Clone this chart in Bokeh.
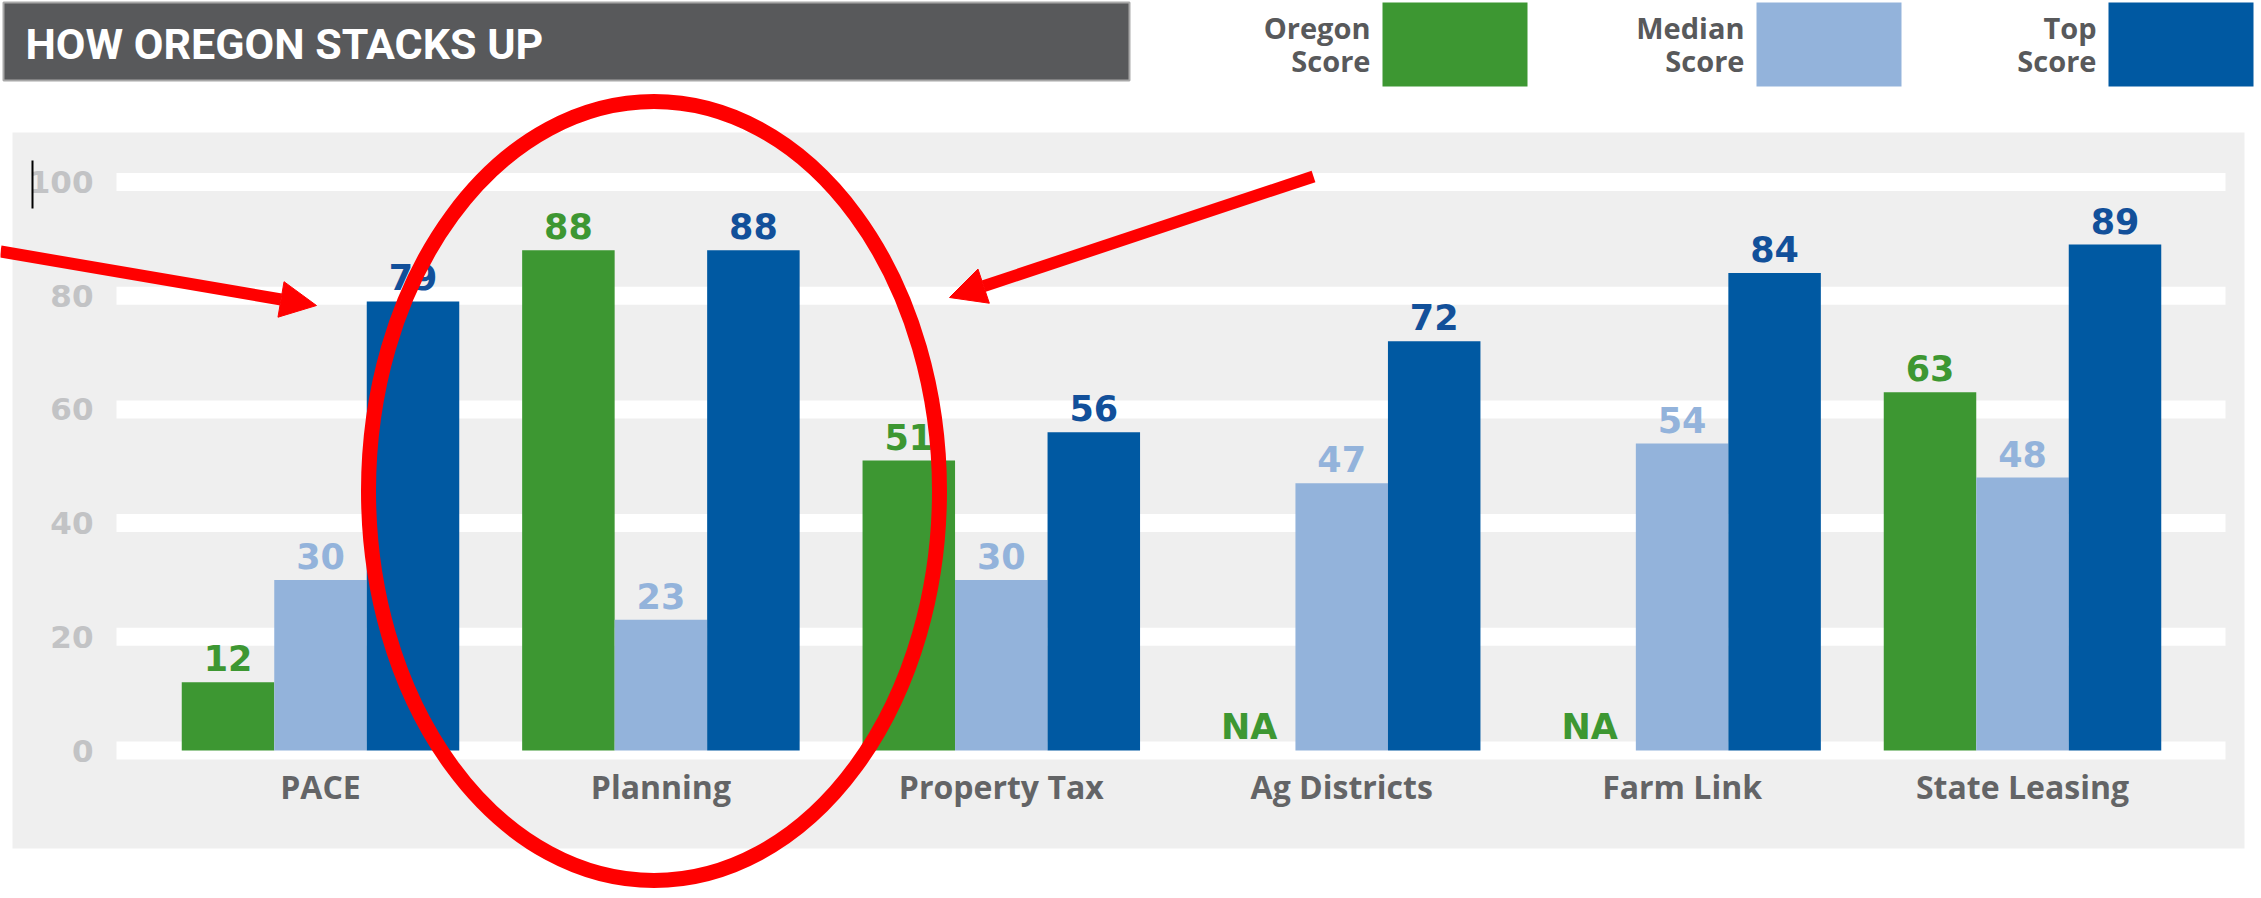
from bokeh.plotting import figure
from bokeh.models import Range1d, ColumnDataSource, Arrow, NormalHead
from bokeh.transform import dodge
from bokeh.core.properties import value
from bokeh.embed import file_html
from bokeh.resources import INLINE

# ---------------- data ----------------
categories = ["PACE", "Planning", "Property Tax", "Ag Districts", "Farm Link", "State Leasing"]
oregon_score = [12, 88, 51, None, None, 63]
median_score = [30, 23, 30, 47, 54, 48]
top_score = [79, 88, 56, 72, 84, 89]
series_names = ["Oregon Score", "Median Score", "Top Score"]
y_ticks = [0, 20, 40, 60, 80, 100]
title_text = "HOW OREGON STACKS UP"

# ---------------- styles ----------------
bar_colors = ["#3d9732", "#93b3db", "#0059a2"]
label_colors = ["#3d9732", "#93b3db", "#12509a"]
NUM_FONT = value("DejaVu Sans")
TXT_FONT = value("Open Sans")

W, H = 2261, 898
OFF = 0
X0, XU = 320.0, 340.4
Y0, YU = 750.0, 5.685


def X(px):
    return (px - X0) / XU


def Y(py):
    return (Y0 - py) / YU


def DW(px):
    return px / XU


def DH(px):
    return px / YU


p = figure(width=W, height=H, output_backend="svg", toolbar_location=None,
           x_range=Range1d(X(OFF), X(OFF + W)), y_range=Range1d(Y(OFF + H), Y(OFF)),
           x_axis_location=None, y_axis_location=None, min_border=0)
p.grid.visible = False
p.outline_line_color = None
p.background_fill_color = "white"
p.border_fill_color = "white"

# panel background
p.quad(left=X(12), right=X(2244), top=Y(132), bottom=Y(848),
       fill_color="#efefef", line_color=None)

# grid bands
p.segment(x0=X(116), x1=X(2225), y0=y_ticks, y1=y_ticks, line_color="white", line_width=18)

# y tick labels
p.text(x=X(93), y=y_ticks, text=[str(t) for t in y_ticks], text_align="right",
       text_baseline="middle", text_font=NUM_FONT, text_font_style="bold",
       text_font_size="31px", text_color="#c2c3c5")

# bars
idx = list(range(len(categories)))
nan = float("nan")
src = ColumnDataSource(dict(
    x=idx,
    oregon=[v if v is not None else nan for v in oregon_score],
    median=median_score,
    top=top_score,
))
bw = DW(92.5)
offsets = [-bw, 0.0, bw]
cols = ["oregon", "median", "top"]
for col, off, c in zip(cols, offsets, bar_colors):
    p.vbar(x=dodge("x", off, range=p.x_range), top=col, bottom=0, width=bw,
           source=src, fill_color=c, line_color=None)

# value labels
for vals, off, c in zip([oregon_score, median_score, top_score], offsets, label_colors):
    txt = [str(v) if v is not None else "NA" for v in vals]
    ly = [(v if v is not None else 0) + DH(24) for v in vals]
    p.text(x=[i + off for i in idx], y=ly, text=txt, text_align="center",
           text_baseline="middle", text_font=NUM_FONT, text_font_style="bold",
           text_font_size="35px", text_color=c)

# category labels
p.text(x=idx, y=Y(786), text=categories, text_align="center", text_baseline="middle",
       text_font=TXT_FONT, text_font_style="bold", text_font_size="32px", text_color="#636466")

# title bar
p.quad(left=X(3), right=X(1129), top=Y(2), bottom=Y(80), fill_color="#58595b",
       line_color="#a8a8a8", line_width=2)
p.text(x=X(25), y=Y(43), text=[title_text], text_align="left", text_baseline="middle",
       text_font=value("Roboto"), text_font_style="bold",
       text_font_size="43px", text_color="white")

# legend
box_left = [1382, 1756, 2108]
p.quad(left=[X(b) for b in box_left], right=[X(b + 145) for b in box_left],
       top=Y(2), bottom=Y(86), fill_color=bar_colors, line_color=None)
line1 = [s.split(" ")[0] for s in series_names]
line2 = [s.split(" ")[1] for s in series_names]
p.text(x=[X(b - 12) for b in box_left], y=Y(27), text=line1, text_align="right",
       text_baseline="middle", text_font=TXT_FONT, text_font_style="bold",
       text_font_size="29px", text_color="#58595b")
p.text(x=[X(b - 12) for b in box_left], y=Y(60), text=line2, text_align="right",
       text_baseline="middle", text_font=TXT_FONT, text_font_style="bold",
       text_font_size="29px", text_color="#58595b")

# text cursor artefact
p.segment(x0=X(32), x1=X(32), y0=Y(160), y1=Y(208), line_color="black", line_width=2)

# red annotations
p.ellipse(x=X(653.5), y=Y(490.5), width=DW(571), height=DH(779),
          fill_color=None, line_color="#ff0000", line_width=15)
p.add_layout(Arrow(end=NormalHead(size=36, fill_color="#ff0000", line_color="#ff0000"),
                   x_start=X(0), y_start=Y(251), x_end=X(316), y_end=Y(305),
                   line_color="#ff0000", line_width=12))
p.add_layout(Arrow(end=NormalHead(size=36, fill_color="#ff0000", line_color="#ff0000"),
                   x_start=X(1313), y_start=Y(176), x_end=X(949), y_end=Y(297),
                   line_color="#ff0000", line_width=12))

open("out.html", "w").write(file_html(p, INLINE))
